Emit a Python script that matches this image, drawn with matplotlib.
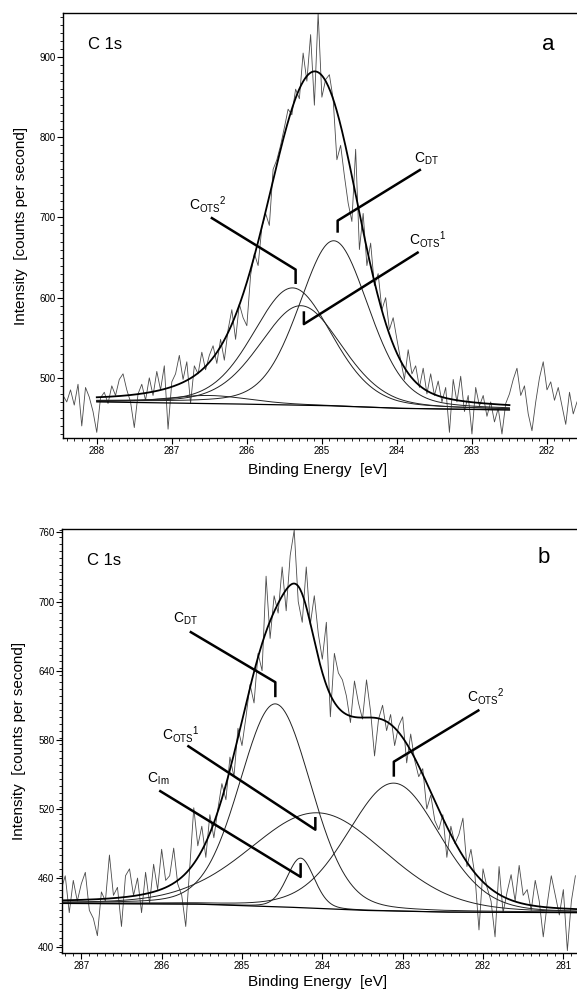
import numpy as np
import matplotlib
matplotlib.use("Agg")
import matplotlib.pyplot as plt
from matplotlib.ticker import MultipleLocator

plt.rcParams["font.family"] = ["Liberation Sans", "DejaVu Sans"]
plt.rcParams["mathtext.default"] = "regular"

# ---------------- panel a : measured counts, 288.45 -> 281.60 eV, 0.05 eV steps
raw_a = [478, 470, 485, 466, 492, 440, 488, 476, 458, 432,
         475, 482, 468, 490, 478, 498, 505, 485, 470, 438,
         480, 492, 472, 500, 478, 508, 485, 515, 436, 495,
         505, 528, 498, 520, 468, 515, 505, 532, 510, 528,
         540, 518, 548, 522, 560, 585, 548, 592, 575, 565,
         628, 655, 640, 688, 705, 690, 760, 772, 790, 812,
         835, 828, 860, 848, 905, 870, 928, 840, 955, 850,
         872, 878, 848, 772, 790, 752, 718, 695, 785, 660,
         705, 640, 668, 615, 630, 585, 600, 560, 575, 548,
         522, 498, 535, 505, 515, 488, 512, 480, 505, 478,
         496, 470, 488, 432, 498, 470, 502, 458, 478, 430,
         488, 465, 478, 452, 470, 445, 462, 430, 468, 480,
         498, 512, 478, 490, 455, 434, 470, 500, 520, 485,
         495, 472, 488, 465, 442, 482, 455, 470]
e_start_a, e_end_a = 288.45, 281.60

# fit components a: C_OTS2, C_OTS1, C_DT, small high-BE component
cen_a = [285.39, 285.28, 284.84, 286.50]
hgt_a = [146, 124, 206, 10]
fwhm_a = [1.25, 1.30, 1.10, 1.30]
bg_e_a = [288.0, 286.5, 285.0, 284.0, 283.0, 282.5]
bg_v_a = [470, 468, 465.5, 462, 460.5, 460]

# ---------------- panel b : measured counts, 287.25 -> 280.85 eV, 0.05 eV steps
raw_b = [450, 462, 430, 458, 440, 455, 465, 432, 425, 410,
         448, 440, 480, 445, 452, 418, 462, 468, 445, 460,
         430, 465, 438, 472, 450, 485,
         458, 462, 486, 455, 445, 418, 470, 521, 488, 505,
         478, 515, 495, 520, 542, 528, 565, 548, 590, 575,
         600, 628, 612, 655, 640, 722, 668, 705, 690, 730,
         692, 740, 762, 700, 682, 730, 680, 705, 672, 650,
         682, 600, 655, 638, 632, 618, 595, 631, 612, 598,
         632, 605, 566, 598, 610, 588, 602, 575, 592, 600,
         560, 585, 562, 548, 555, 520, 532, 510, 502, 515,
         478, 505, 490, 498, 512, 470, 485, 462, 415, 468,
         452, 440, 409, 470, 430, 448, 463, 440, 471, 445,
         450, 432, 458, 440, 409, 438, 462, 445, 428, 450,
         397, 440, 462]
e_start_b, e_end_b = 287.25, 280.85

# fit components b: C_DT, C_OTS1, C_lm, C_OTS2
cen_b = [284.585, 284.05, 284.27, 283.11]
hgt_b = [176, 83, 43, 111]
fwhm_b = [1.05, 2.00, 0.40, 1.35]
bg_e_b = [287.24, 285.6, 284.5, 283.5, 282.5, 280.83]
bg_v_b = [438, 437.5, 435, 432, 430.5, 430]

yticks_b = [400, 460, 520, 580, 640, 700, 760]


def pvoigt(x, c, h, w, eta):
    r2 = ((x - c) / w) ** 2
    return h * ((1 - eta) * np.exp(-4 * np.log(2) * r2) + eta / (1 + 4 * r2))


def draw_panel(ax, raw, e0, e1, cen, hgt, fwhm, bg_e, bg_v, eta):
    e_raw = np.linspace(e0, e1, len(raw))
    ax.plot(e_raw, raw, color="#4a4a4a", lw=0.6)
    x = np.linspace(bg_e[0], bg_e[-1], 600)
    bg = np.interp(x, bg_e[::-1], bg_v[::-1])
    total = bg.copy()
    for c, h, w in zip(cen, hgt, fwhm):
        comp = pvoigt(x, c, h, w, eta)
        total += comp
        ax.plot(x, bg + comp, color="#222222", lw=0.7)
    ax.plot(x, bg, color="black", lw=0.9)
    ax.plot(x, total, color="black", lw=1.3)


fig = plt.figure(figsize=(5.77, 9.9), dpi=100)
ax_a = fig.add_axes([0.1092, 0.5576, 0.8908, 0.4293])
ax_b = fig.add_axes([0.1075, 0.0374, 0.8925, 0.4283])

draw_panel(ax_a, raw_a, e_start_a, e_end_a, cen_a, hgt_a, fwhm_a, bg_e_a, bg_v_a, 0.25)
draw_panel(ax_b, raw_b, e_start_b, e_end_b, cen_b, hgt_b, fwhm_b, bg_e_b, bg_v_b, 0.15)

ax_a.set_xlim(288.45, 281.6)
ax_a.set_ylim(425, 955)
ax_a.yaxis.set_major_locator(MultipleLocator(100))
ax_a.yaxis.set_minor_locator(MultipleLocator(10))

ax_b.set_xlim(287.24, 280.83)
ax_b.set_ylim(395, 763)
ax_b.set_yticks(yticks_b)
ax_b.yaxis.set_minor_locator(MultipleLocator(6))

for ax in (ax_a, ax_b):
    ax.xaxis.set_major_locator(MultipleLocator(1))
    ax.xaxis.set_minor_locator(MultipleLocator(0.1))
    ax.spines["right"].set_visible(False)
    for s in ("left", "bottom", "top"):
        ax.spines[s].set_linewidth(1.0)
    ax.tick_params(which="major", direction="out", length=4, width=0.8, labelsize=7, pad=1.5)
    ax.tick_params(which="minor", direction="out", length=2.2, width=0.6)
    ax.tick_params(top=False, right=False)
    ax.set_xlabel("Binding Energy  [eV]", fontsize=11)
    ax.set_ylabel("Intensity  [counts per second]", fontsize=11)
    ax.yaxis.set_label_coords(-0.069, 0.5)
    ax.text(0.048, 0.925, "C 1s", transform=ax.transAxes, fontsize=12, va="center")

ax_a.xaxis.set_label_coords(0.496, -0.058)
ax_b.xaxis.set_label_coords(0.496, -0.053)

ax_a.text(0.944, 0.925, "a", transform=ax_a.transAxes, fontsize=16, va="center", ha="center")
ax_b.text(0.936, 0.932, "b", transform=ax_b.transAxes, fontsize=16, va="center", ha="center")

lead = dict(color="black", lw=1.8, solid_capstyle="butt")

# panel a labels
ax_a.text(286.77, 710, r"C$_{OTS}{}^{2}$", fontsize=10)
ax_a.plot([286.48, 285.35, 285.35], [700, 635, 617], **lead)
ax_a.text(283.77, 769, r"C$_{DT}$", fontsize=10)
ax_a.plot([283.68, 284.79, 284.79], [760, 696, 681], **lead)
ax_a.text(283.84, 666, r"C$_{OTS}{}^{1}$", fontsize=10)
ax_a.plot([283.71, 285.24, 285.24], [657, 567, 583], **lead)

# panel b labels
ax_b.text(285.855, 682, r"C$_{DT}$", fontsize=10)
ax_b.plot([285.65, 284.585, 284.585], [674, 630, 617], **lead)
ax_b.text(285.99, 580, r"C$_{OTS}{}^{1}$", fontsize=10)
ax_b.plot([285.68, 284.087, 284.087], [575, 502, 513], **lead)
ax_b.text(286.18, 543, r"C$_{l\,m}$", fontsize=10)
ax_b.plot([286.03, 284.27, 284.27], [536, 461, 473], **lead)
ax_b.text(282.195, 613, r"C$_{OTS}{}^{2}$", fontsize=10)
ax_b.plot([282.045, 283.11, 283.11], [606, 561, 548], **lead)

fig.savefig("out.png", dpi=100)
